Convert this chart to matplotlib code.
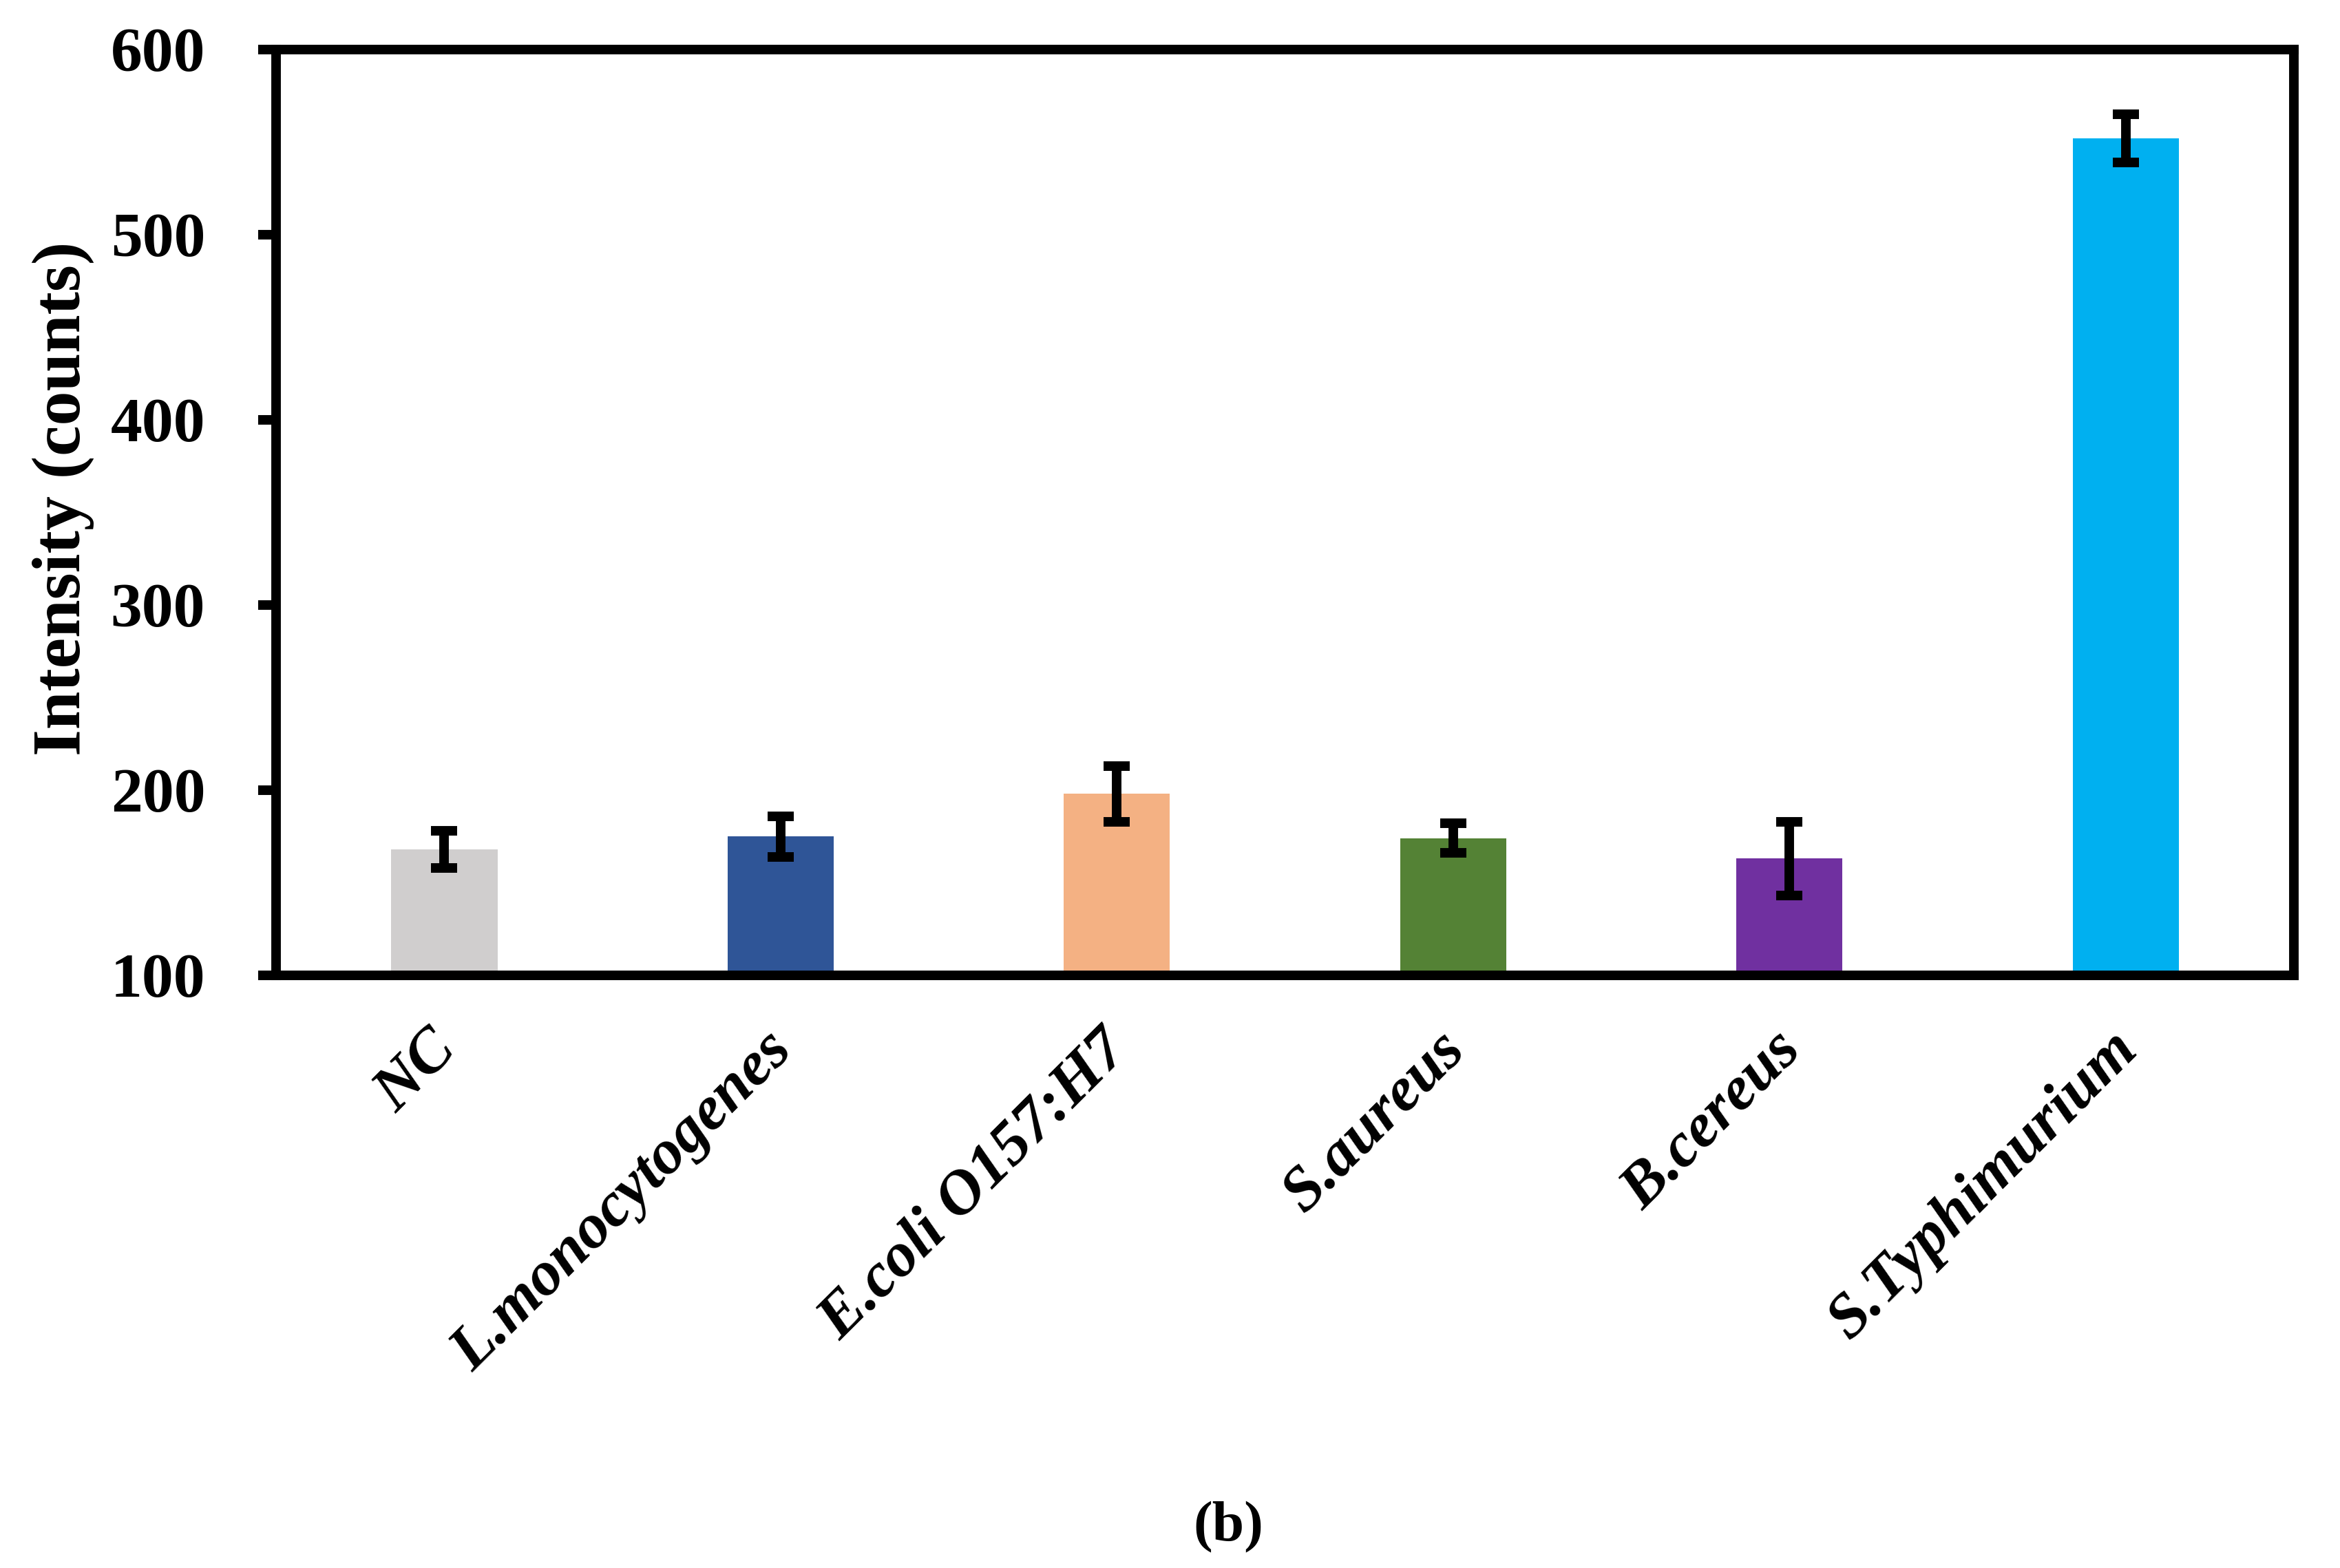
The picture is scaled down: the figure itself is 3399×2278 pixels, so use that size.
import numpy as np
import matplotlib
matplotlib.use("Agg")
import matplotlib.pyplot as plt
import matplotlib.transforms as mtransforms

# data
categories = ["NC", "L.monocytogenes", "E.coli O157:H7", "S.aureus", "B.cereus", "S.Typhimurium"]
intensity = [168, 175, 198, 174, 163, 552]
errors = [10, 11, 15, 8, 20, 13]
colors = ["#D0CECE", "#2F5597", "#F4B183", "#548235", "#7030A0", "#00B0F0"]
yticks = [100, 200, 300, 400, 500, 600]

plt.rcParams['font.family'] = ['Liberation Serif', 'DejaVu Serif']
plt.rcParams['font.weight'] = 'bold'

fig = plt.figure(figsize=(33.99, 22.78), dpi=100)
ax = fig.add_axes([0.118, 0.378, 0.8623, 0.5904])

x = np.arange(len(categories))
ax.bar(x, np.array(intensity) - 100, bottom=100, width=0.316, color=colors, zorder=2)
ax.errorbar(x, intensity, yerr=errors, fmt='none', ecolor='black',
            elinewidth=10, capsize=13.7, capthick=10, zorder=3)

ax.set_ylim(100, 600)
ax.set_xlim(-0.5, 5.5)
ax.set_yticks(yticks)
ax.set_yticklabels([str(t) for t in yticks], fontsize=66, fontweight='bold')
ax.set_xticks(x)
ax.set_xticklabels(categories, rotation=45, ha='right', fontsize=66,
                   fontweight='bold', fontstyle='italic')
ax.tick_params(axis='y', direction='out', length=19, width=10, pad=55)
ax.tick_params(axis='x', length=0, pad=48)

# nudge the slanted labels right, italic overhang is not in the bbox
shift = mtransforms.ScaledTranslation(24 / 72, 0, fig.dpi_scale_trans)
for lbl in ax.get_xticklabels():
    lbl.set_transform(lbl.get_transform() + shift)

for sp in ax.spines.values():
    sp.set_linewidth(10)
    sp.set_color('black')

ax.set_ylabel("Intensity (counts)", fontsize=72, fontweight='bold')
ax.yaxis.set_label_coords(-0.090, 0.515)

fig.text(0.525, 0.026, "(b)", fontsize=60, fontweight='bold', ha='center', va='center')

fig.savefig("out.png", dpi=100)
